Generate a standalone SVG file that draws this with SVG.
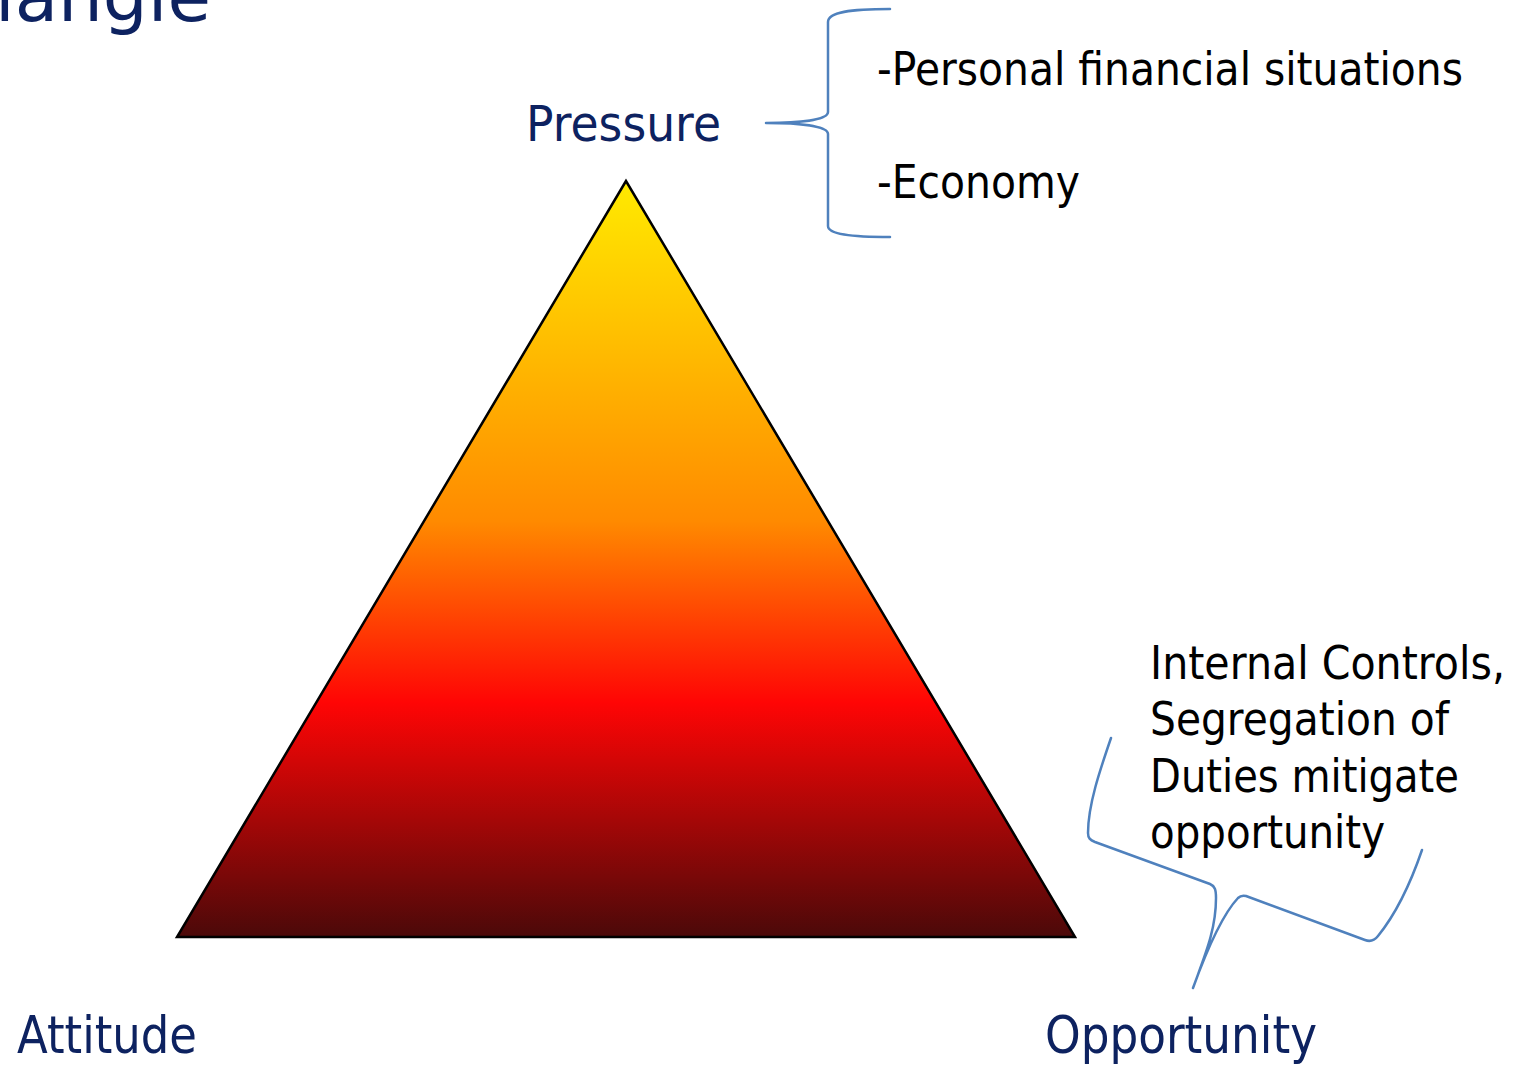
<svg xmlns="http://www.w3.org/2000/svg" width="1526" height="1065" viewBox="0 0 1526 1065">
  <style>
    .head { font-family: "DejaVu Sans", "Liberation Sans", sans-serif; fill: #0D2260; }
    .body { font-family: "DejaVu Sans", "Liberation Sans", sans-serif; fill: #000000; }
    .brace { fill: none; stroke: #4F81BD; stroke-width: 2.5; stroke-linecap: round; stroke-linejoin: round; }
  </style>
  <defs>
    <linearGradient id="fire" x1="0" y1="181" x2="0" y2="937" gradientUnits="userSpaceOnUse">
      <stop offset="0" stop-color="#FFEA00"/>
      <stop offset="0.2" stop-color="#FFC000"/>
      <stop offset="0.45" stop-color="#FF8A00"/>
      <stop offset="0.69" stop-color="#FF0505"/>
      <stop offset="1" stop-color="#4B0909"/>
    </linearGradient>
  </defs>

  <rect width="1526" height="1065" fill="#FFFFFF"/>

  <!-- heading, clipped at the page edge -->
  <text class="head" x="-5" y="21" font-size="70" textLength="216" lengthAdjust="spacingAndGlyphs">iangle</text>

  <g id="triangle">
    <polygon points="626,181 177,937 1075,937" fill="url(#fire)" stroke="#000000" stroke-width="2.5" stroke-linejoin="miter"/>
  </g>

  <g id="pressure">
    <text class="head" x="526" y="141" font-size="50" textLength="195" lengthAdjust="spacingAndGlyphs">Pressure</text>
  </g>

  <g id="attitude">
    <text class="head" x="17" y="1053" font-size="52" textLength="180" lengthAdjust="spacingAndGlyphs">Attitude</text>
  </g>

  <g id="opportunity">
    <text class="head" x="1045" y="1053" font-size="52" textLength="272" lengthAdjust="spacingAndGlyphs">Opportunity</text>
  </g>

  <g id="pressure-factors">
    <text class="body" x="877" y="85" font-size="46" textLength="586" lengthAdjust="spacingAndGlyphs">-Personal financial situations</text>
    <text class="body" x="877" y="198" font-size="46" textLength="203" lengthAdjust="spacingAndGlyphs">-Economy</text>
  </g>

  <g id="opportunity-note">
    <text class="body" x="1150" y="679" font-size="46" textLength="355" lengthAdjust="spacingAndGlyphs">Internal Controls,</text>
    <text class="body" x="1150" y="735" font-size="46" textLength="299" lengthAdjust="spacingAndGlyphs">Segregation of</text>
    <text class="body" x="1150" y="792" font-size="46" textLength="309" lengthAdjust="spacingAndGlyphs">Duties mitigate</text>
    <text class="body" x="1150" y="848" font-size="46" textLength="235" lengthAdjust="spacingAndGlyphs">opportunity</text>
  </g>

  <g id="connectors">
    <!-- curly brace from Pressure to its factors -->
    <path class="brace" d="M890,9 C850,9 828,12 828,22 L828,112 C828,120 800,123 766,123 C800,123 828,126 828,134 L828,226 C828,234 850,237 890,237"/>
    <!-- bracket from the note down to Opportunity -->
    <path class="brace" d="M1111,738 C1100,770 1088,805 1088,833 C1088,838 1090,840 1095,842 L1210,884 C1215,886 1216,890 1216,898 C1216,930 1205,955 1193,988 C1205,955 1222,915 1238,898 C1240,896 1242,895 1246,896 L1365,940 C1370,942 1374,941 1378,936 C1395,915 1410,885 1422,850"/>
  </g>
</svg>
